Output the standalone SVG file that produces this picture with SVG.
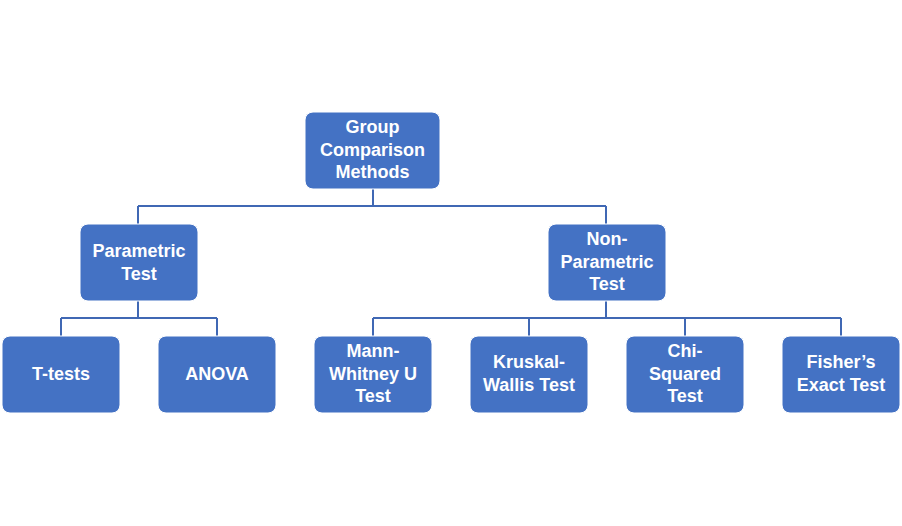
<svg xmlns="http://www.w3.org/2000/svg" width="902" height="526" viewBox="0 0 902 526">
<style>
.box{fill:#4472C4;stroke:#ffffff;stroke-width:1}
.t{font-family:"Liberation Sans",Arial,sans-serif;font-weight:bold;font-size:18px;fill:#ffffff;text-anchor:middle}
.c{fill:none;stroke:#4068B4;stroke-width:2}
</style>
<rect width="902" height="526" fill="#ffffff"/>
<g id="connectors">
<path class="c" d="M373 188V206M138 206H606M138 206V224M606 206V224"/>
<path class="c" d="M138 300V318M61 318H217M61 318V336M217 318V336"/>
<path class="c" d="M606 300V318M373 318H841M373 318V336M529 318V336M685 318V336M841 318V336"/>
</g>
<g id="root"><rect class="box" x="305" y="112" width="135" height="77" rx="8"/><text class="t" x="372.5" y="133">Group</text><text class="t" x="372.5" y="156">Comparison</text><text class="t" x="372.5" y="178">Methods</text></g>
<g id="parametric"><rect class="box" x="80" y="224" width="118" height="77" rx="8"/><text class="t" x="139" y="257">Parametric</text><text class="t" x="139" y="280">Test</text></g>
<g id="nonparametric"><rect class="box" x="548" y="224" width="118" height="77" rx="8"/><text class="t" x="607" y="245">Non-</text><text class="t" x="607" y="268">Parametric</text><text class="t" x="607" y="290">Test</text></g>
<g id="ttests"><rect class="box" x="2" y="336" width="118" height="77" rx="8"/><text class="t" x="61" y="380">T-tests</text></g>
<g id="anova"><rect class="box" x="158" y="336" width="118" height="77" rx="8"/><text class="t" x="217" y="380">ANOVA</text></g>
<g id="mann"><rect class="box" x="314" y="336" width="118" height="77" rx="8"/><text class="t" x="373" y="357">Mann-</text><text class="t" x="373" y="380">Whitney U</text><text class="t" x="373" y="402">Test</text></g>
<g id="kruskal"><rect class="box" x="470" y="336" width="118" height="77" rx="8"/><text class="t" x="529" y="368">Kruskal-</text><text class="t" x="529" y="391">Wallis Test</text></g>
<g id="chi"><rect class="box" x="626" y="336" width="118" height="77" rx="8"/><text class="t" x="685" y="357">Chi-</text><text class="t" x="685" y="380">Squared</text><text class="t" x="685" y="402">Test</text></g>
<g id="fisher"><rect class="box" x="782" y="336" width="118" height="77" rx="8"/><text class="t" x="841" y="368">Fisher’s</text><text class="t" x="841" y="391">Exact Test</text></g>
</svg>
